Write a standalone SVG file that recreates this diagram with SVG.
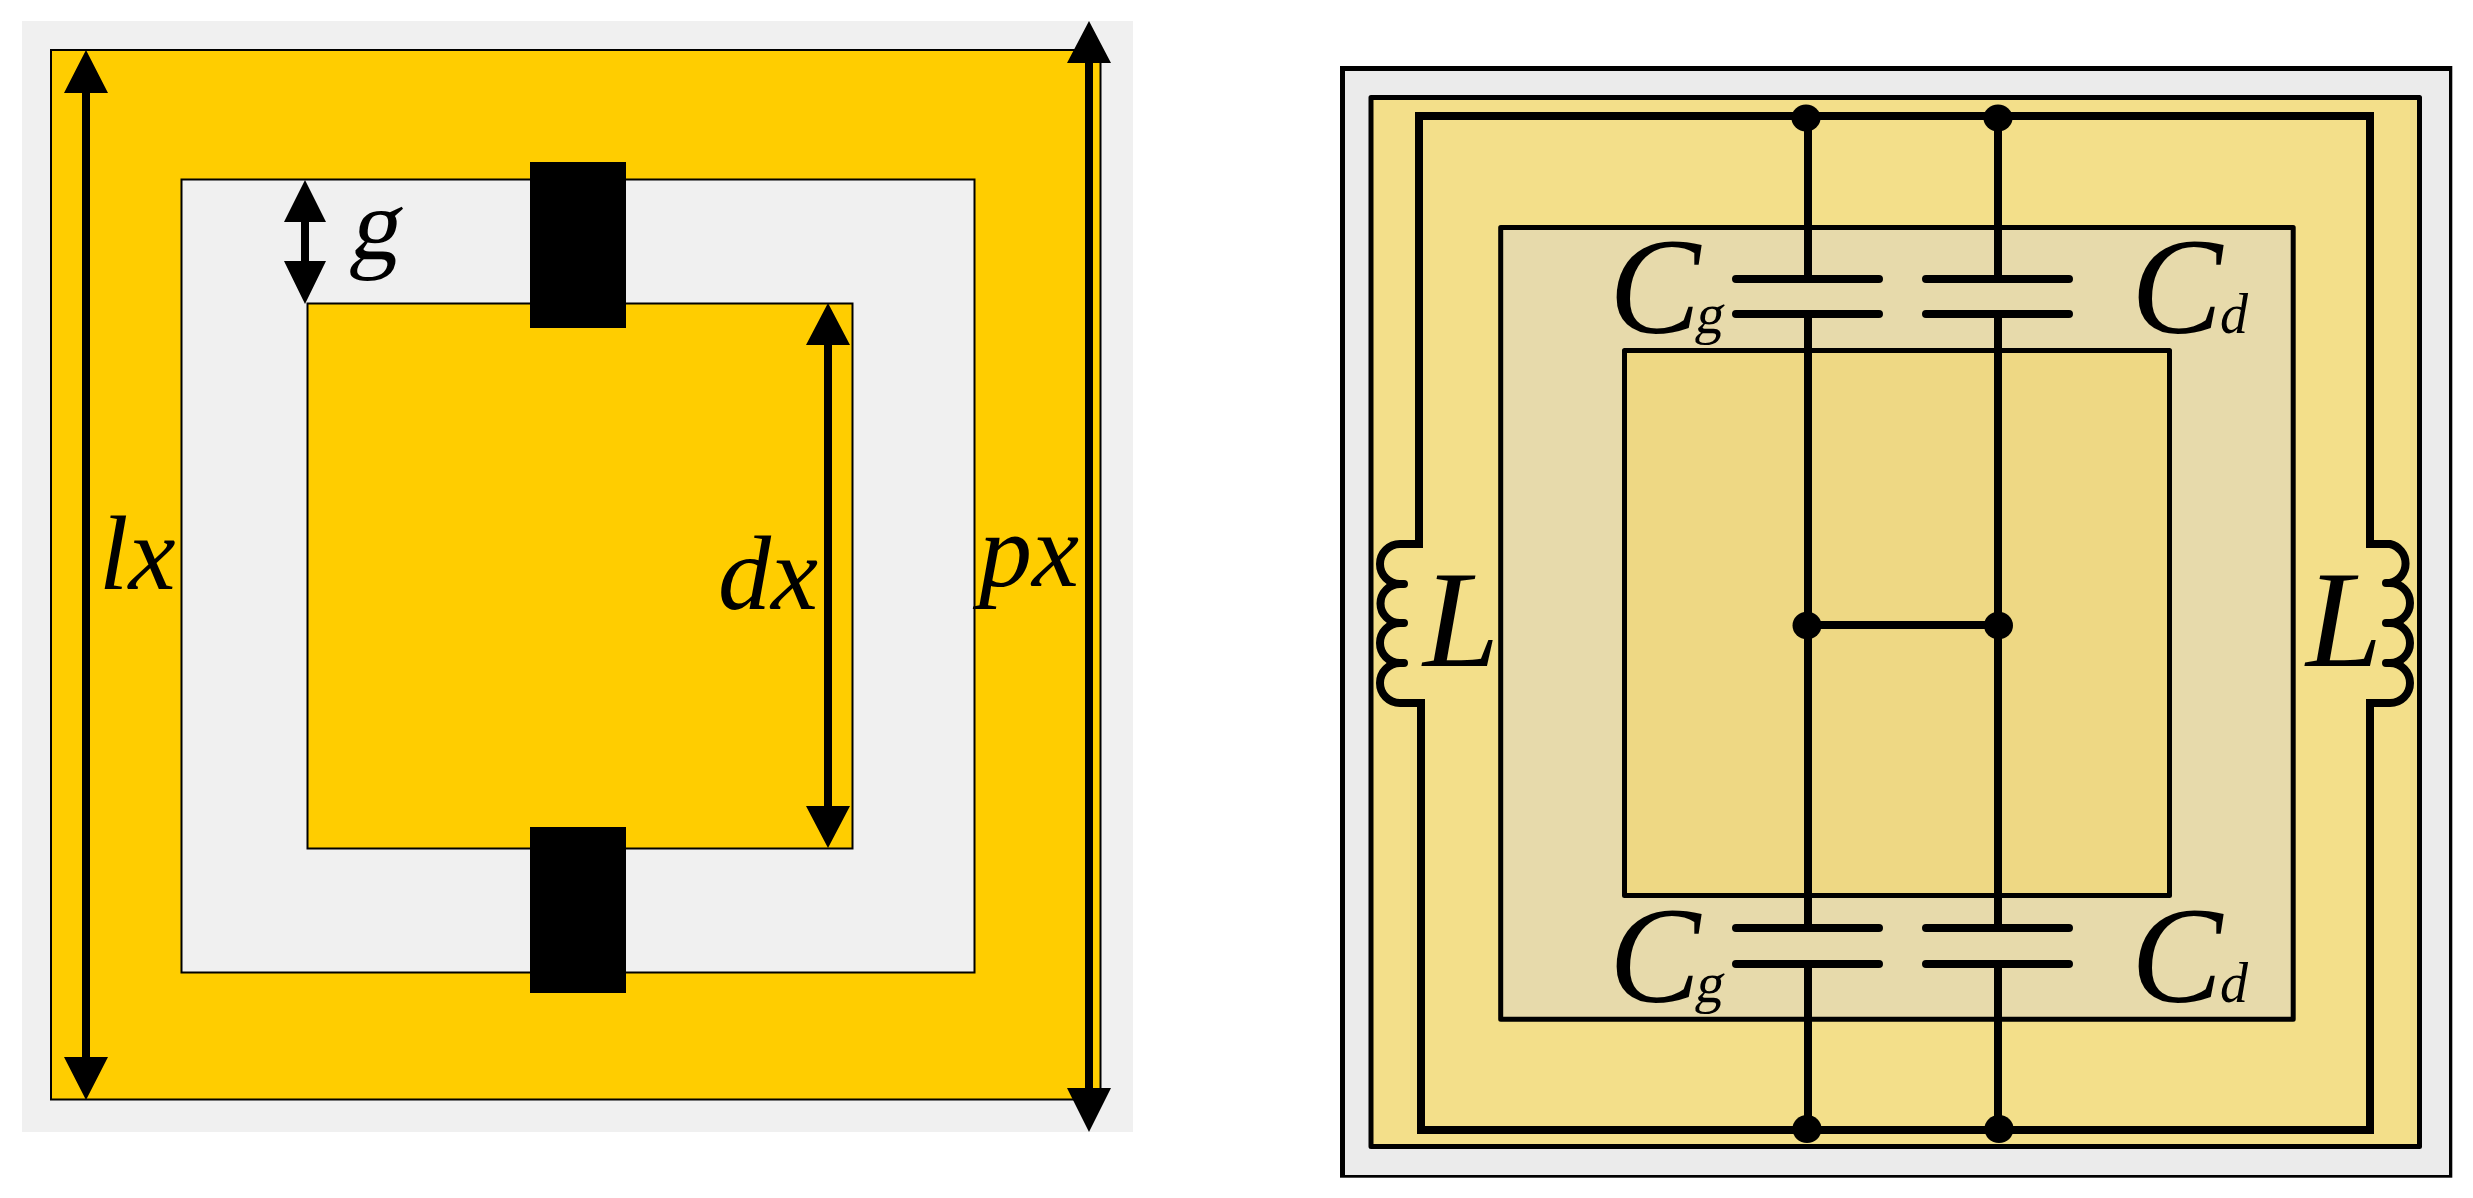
<svg xmlns="http://www.w3.org/2000/svg" width="2473" height="1198" viewBox="0 0 2473 1198">
<defs><style>
.m{font-family:'Liberation Serif',serif;font-weight:400;fill:#000}
.i{font-style:italic}
.d{font-size:106px}.c{font-size:137px}.s{font-size:56px}
.y{fill:#ffcd00;stroke:#000;stroke-width:2}
.g{fill:#f0f0f0;stroke:#000;stroke-width:2}
.w{fill:none;stroke:#000;stroke-width:8;stroke-linecap:butt;stroke-linejoin:miter}
.r{stroke-linecap:round}
.f{stroke:#000;stroke-width:5;stroke-linejoin:round}
.a{fill:#000;stroke:none}
</style></defs>
<rect width="2473" height="1198" fill="#fff"/>
<g id="structure">
<rect x="22" y="21" width="1111" height="1111" fill="#f0f0f0"/>
<rect class="y" x="51" y="50" width="1049.500" height="1049.500"/>
<rect class="g" x="181.500" y="179.500" width="793" height="793"/>
<rect class="y" x="307.500" y="303.500" width="545" height="545"/>
<rect x="530" y="162" width="96" height="166" fill="#000"/>
<rect x="530" y="827" width="96" height="166" fill="#000"/>
</g>
<g id="dimensions">
<path class="a" d="M86 50L108 93H90V1057H108L86 1100L64 1057H82V93H64Z"/>
<path class="a" d="M305 180L326 222H309V261H326L305 304L284 261H301V222H284Z"/>
<path class="a" d="M828 303L850 345H832V806H850L828 848L806 806H824V345H806Z"/>
<path class="a" d="M1089 21L1111 63H1093V1088H1111L1089 1132L1067 1088H1085V63H1067Z"/>
</g>
<g id="dim-labels">
<text class="m" font-size="102" transform="matrix(.98 0 -.18 1 348 259)">g</text>
<text class="m i d" x="99" y="589">lx</text>
<text class="m i d" x="718" y="609">dx</text>
<text class="m i d" x="979" y="586">px</text>
</g>
<g id="circuit-bg">
<rect x="1340" y="66" width="1112.300" height="1111.700" fill="#000"/>
<rect x="1345" y="71" width="1104" height="1104" fill="#ebebeb"/>
<rect class="f" x="1371" y="97.500" width="1048.500" height="1049" fill="#f3df8a"/>
<rect class="f" x="1500.700" y="227.500" width="792.500" height="791.700" fill="#e7daab"/>
<rect class="f" x="1624.500" y="350.500" width="545" height="545" fill="#eed884"/>
</g>
<g id="connectors">
<path class="w" d="M1421 699V1130H2370V699M1419 548V116H2370V548"/>
<path class="w" d="M1423 544H1400A20 20 0 0 0 1400 584"/>
<path class="w" d="M1400 584A19.500 19.500 0 0 0 1400 623"/>
<path class="w" d="M1400 623A20 20 0 0 0 1400 663"/>
<path class="w" d="M1400 663A20 20 0 0 0 1400 703H1425"/>
<path class="w r" d="M1400 584H1404M1400 623H1404M1400 663H1404"/>
<path class="w" d="M2366 544H2390A20 20 0 0 1 2390 583"/>
<path class="w" d="M2390 583A20 20 0 0 1 2390 623"/>
<path class="w" d="M2390 623A20 20 0 0 1 2390 663"/>
<path class="w" d="M2390 663A20 20 0 0 1 2390 703H2366"/>
<path class="w r" d="M2390 583H2386M2390 623H2386M2390 663H2386"/>
<path class="w" d="M1808 118V279M1998 118V279M1808 314V928M1998 314V928M1808 964V1129M1998 964V1129M1808 625H1998"/>
<path class="w r" d="M1736 279H1879M1736 314H1879M1926 279H2069M1926 314H2069M1736 928H1879M1736 964H1879M1926 928H2069M1926 964H2069"/>
</g>
<g id="junctions">
<ellipse cx="1806" cy="118" rx="14.500" ry="13.500"/><ellipse cx="1998" cy="118" rx="14.500" ry="13.500"/>
<ellipse cx="1807" cy="625.500" rx="14.500" ry="13.800"/><ellipse cx="1998.500" cy="625.500" rx="14.500" ry="13.800"/>
<ellipse cx="1807" cy="1129" rx="14.500" ry="14"/><ellipse cx="1999" cy="1129" rx="14.500" ry="14"/>
</g>
<g id="C-g-top"><text class="m i c" x="1609" y="333">C</text><text class="m s" transform="matrix(1 0 -.18 1 1694 333)">g</text></g>
<g id="C-d-top"><text class="m i c" x="2131" y="333">C</text><text class="m i s" x="2220" y="333">d</text></g>
<g id="C-g-bottom"><text class="m i c" x="1609" y="1002">C</text><text class="m s" transform="matrix(1 0 -.18 1 1694 1002)">g</text></g>
<g id="C-d-bottom"><text class="m i c" x="2131" y="1002">C</text><text class="m i s" x="2220" y="1002">d</text></g>
<g id="L-left"><text class="m i c" x="1423" y="665.700">L</text></g>
<g id="L-right"><text class="m i c" x="2306" y="665.700">L</text></g>
</svg>
